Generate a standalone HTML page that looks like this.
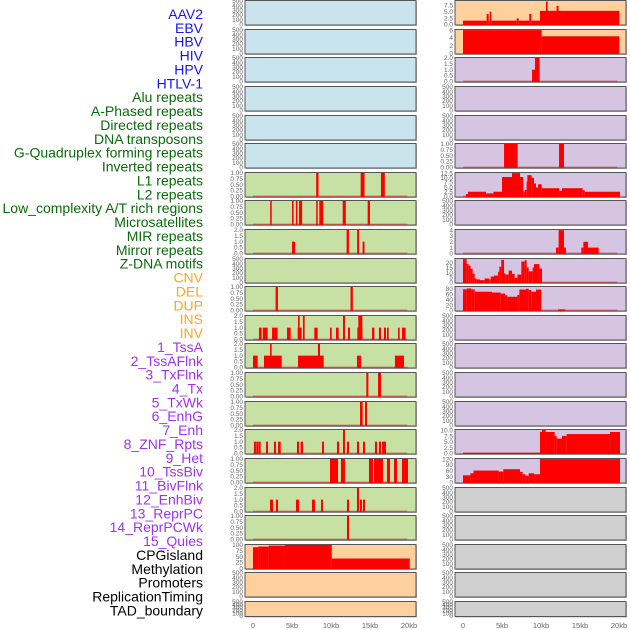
<!DOCTYPE html>
<html><head><meta charset="utf-8"><style>
html,body{margin:0;padding:0;background:#fff;width:630px;height:630px;overflow:hidden}
svg{display:block;font-family:"Liberation Sans",sans-serif}
</style></head><body>
<svg id="chart" width="630" height="630" viewBox="0 0 630 630" xmlns="http://www.w3.org/2000/svg">
<g id="labels"></g>
<g id="panels"></g>
<g id="xaxes"></g>
</svg>
<script>
const trackNames = ["AAV2","EBV","HBV","HIV","HPV","HTLV-1","Alu repeats","A-Phased repeats","Directed repeats","DNA transposons","G-Quadruplex forming repeats","Inverted repeats","L1 repeats","L2 repeats","Low_complexity A/T rich regions","Microsatellites","MIR repeats","Mirror repeats","Z-DNA motifs","CNV","DEL","DUP","INS","INV","1_TssA","2_TssAFlnk","3_TxFlnk","4_Tx","5_TxWk","6_EnhG","7_Enh","8_ZNF_Rpts","9_Het","10_TssBiv","11_BivFlnk","12_EnhBiv","13_ReprPC","14_ReprPCWk","15_Quies","CPGisland","Methylation","Promoters","ReplicationTiming","TAD_boundary"];
const trackGroups = ["v","v","v","v","v","v","r","r","r","r","r","r","r","r","r","r","r","r","r","s","s","s","s","s","c","c","c","c","c","c","c","c","c","c","c","c","c","c","c","o","o","o","o","o"];
const xTickValues = [0,5,10,15,20];
const xTickLabels = ["0","5kb","10kb","15kb","20kb"];

// bars: [start_kb, end_kb, value]
const L7 = [[8.1,8.4,1],[13.8,14.3,1],[16.4,16.9,1]];
const L8 = [[2.2,2.4,1],[5.0,5.2,1],[5.5,5.7,1],[5.9,6.3,1],[8.1,8.3,1],[8.5,9.0,1],[11.5,11.9,1],[14.7,15.0,1]];
const L9 = [[5.0,5.4,1],[12.0,12.3,2],[13.35,13.6,2],[14.05,14.3,1]];
const L11 = [[2.9,3.2,1],[12.5,12.8,1]];
const L12 = [[0.77,1.11,1],[1.25,1.88,1],[2.44,3.16,1],[4.36,4.83,1],[5.73,6.24,1],[5.77,5.98,2],[6.41,6.62,2],[7.86,8.29,1],[9.87,10.09,1],[10.64,10.98,1],[11.54,11.79,2],[12.18,12.44,1],[13.38,14.02,1],[13.5,14.02,2],[15.26,15.56,1],[16.15,16.41,1],[16.79,17.05,1],[17.18,17.39,1],[18.59,18.8,1],[19.1,19.57,1]];
const L13 = [[0,0.6,1],[1.41,3.68,1],[2.18,2.39,2],[5.77,9.06,1],[8.33,8.59,2],[13.33,13.85,1],[18.2,19.36,1]];
const L14 = [[14.53,14.79,1],[16.03,16.41,1]];
const L15 = [[13.72,14.06,1],[14.36,14.62,1]];
const L16 = [[0.12,0.38,1],[0.42,0.68,1],[0.72,0.98,1],[1.67,1.92,1],[2.69,2.95,1],[3.21,3.55,1],[5.64,5.9,1],[6.11,6.41,1],[8.85,9.1,1],[10.77,11.03,1],[11.54,11.79,2],[12.05,12.31,1],[13.33,13.59,1],[14.1,14.36,1],[15.64,15.9,1],[16.15,16.41,1],[16.54,16.79,1],[16.79,17.05,1]];
const L17 = [[9.87,10.9,1],[11.28,11.79,1],[14.87,15.38,1],[15.51,16.15,1],[16.15,16.67,1],[17.18,17.56,1],[18.08,18.46,1],[19.1,19.87,1]];
const L18 = [[2.18,2.56,1],[2.95,3.21,1],[5.51,5.9,1],[7.56,7.95,1],[8.72,8.97,1],[12.05,12.31,1],[13.33,13.59,2],[13.72,13.97,1],[14.1,14.36,1]];
const L19 = [[12.05,12.31,1]];
const L20 = [[0,0.68,90],[0.68,2.0,93],[2.0,4.1,97],[4.1,10.1,100],[10.1,20.1,42]];
const R1 = [[0,3.03,1.5],[3.03,3.29,4.1],[3.29,3.42,1.5],[3.42,3.63,5.1],[3.63,6.88,1.5],[6.88,7.14,2.4],[7.14,8.5,1.5],[8.5,8.76,4.2],[8.76,9.87,1.5],[9.87,20.04,5.4],[10.64,10.85,9.1],[12.0,12.26,7.4]];
const R2 = [[0,10.08,6],[10.08,20.04,4.4]];
const R3 = [[8.85,9.23,1.0],[9.23,9.83,2]];
const R6 = [[5.26,7.01,1],[12.31,12.95,1]];
const R7 = [[0.38,0.64,1.2],[0.64,2.95,2.5],[2.95,3.89,1.6],[3.89,5.0,2.5],[5.0,6.28,10.4],[6.28,7.31,12.5],[7.31,7.73,10.4],[7.73,7.91,2.6],[7.91,8.16,3.5],[8.16,8.25,7.9],[8.25,8.8,11.4],[8.8,9.1,10],[9.1,9.36,6.9],[9.36,9.62,4.8],[9.62,10.09,6.5],[10.09,12.35,4.4],[12.35,12.69,3.0],[12.69,15.34,4.4],[15.34,15.6,3.3],[15.6,20.13,2.5]];
const R9 = [[11.92,12.26,1],[12.26,12.95,4],[12.95,13.2,1],[15.17,15.43,1],[15.43,16.03,2],[16.03,17.4,1]];
const R10 = [[0,0.47,23.7],[0.47,0.73,18.7],[0.73,0.98,17],[0.98,1.24,14],[1.24,1.5,8.7],[1.5,1.75,4],[1.75,2.18,3],[2.18,2.78,2.3],[2.78,3.38,4],[3.38,3.55,3],[3.55,3.97,6],[3.97,4.49,7],[4.49,4.66,11],[4.66,4.91,16],[4.91,5.26,23],[5.26,5.43,9.3],[5.43,5.85,8],[5.85,6.28,12],[6.28,6.62,8.7],[6.62,6.97,4.7],[6.97,7.48,8],[7.48,7.91,21.3],[7.91,8.16,22.7],[8.16,8.42,15.3],[8.42,8.93,11.3],[8.93,9.1,15.3],[9.1,9.79,18.7],[9.79,10.13,14.3]];
const R11 = [[0,0.47,79],[0.47,1.07,82],[1.07,1.5,79],[1.5,3.72,70],[3.72,4.83,67],[4.83,5.43,63],[5.43,5.68,57],[5.68,6.97,51],[6.97,7.22,58],[7.22,8.08,78],[8.08,8.42,81],[8.42,8.76,76],[8.76,9.36,70],[9.36,10.04,78],[12.18,13.12,4]];
const R16 = [[0,9.87,0.3],[9.87,10.13,9.3],[10.13,10.6,10.1],[10.6,11.75,9.3],[11.75,12.01,7.6],[12.01,12.69,6.4],[12.69,13.29,7.6],[13.29,18.85,8.4],[18.85,20.13,9.3]];
const R17 = [[0,0.94,36.5],[0.94,1.35,47],[1.35,4.57,61],[4.57,5.17,56],[5.17,7.31,68],[7.31,7.65,54],[7.65,8.0,42],[8.0,8.42,35],[8.42,9.1,47],[9.1,9.87,42],[9.87,20.13,120]];

const T01 = [0,0.25,0.5,0.75,1]; const T01L = ["0.00","0.25","0.50","0.75","1.00"];
const T02 = [0,0.5,1,1.5,2]; const T02L = ["0.0","0.5","1.0","1.5","2.0"];
const TE = [0,100,200,300,400,500]; const TEL = ["0","100","200","300","400","500"];

const BLUE="#c9e4ec", GREEN="#c7e0a3", ORANGE="#fed09e", PURPLE="#d5c5e2", GRAY="#d0d0d0";
const rowTops=[0,29,57,86,115,143,172,200,229,258,286,315,343,372,401,429,458,487,515,544,572,601];
const colX=[245,455];
const panelW=171;

function spec(bars,ticks,labels,ymax){return {bars,ticks,labels,ymax};}
const empty = spec(null,TE,TEL,500);
const leftSpecs = [empty,empty,empty,empty,empty,empty,
 spec(L7,T01,T01L,1),spec(L8,T01,T01L,1),spec(L9,T02,T02L,2),empty,spec(L11,T01,T01L,1),
 spec(L12,T02,T02L,2),spec(L13,T02,T02L,2),spec(L14,T01,T01L,1),spec(L15,T01,T01L,1),
 spec(L16,T02,T02L,2),spec(L17,T01,T01L,1),spec(L18,T02,T02L,2),spec(L19,T01,T01L,1),
 spec(L20,[0,25,50,75,100],["0","25","50","75","100"],100),empty,empty];
const rightSpecs = [spec(R1,[0,2.5,5,7.5],["0.0","2.5","5.0","7.5"],9.35),
 spec(R2,[0,2,4,6],["0","2","4","6"],6.05),spec(R3,T02,T02L,2),empty,empty,spec(R6,T01,T01L,1),
 spec(R7,[0,2.5,5,7.5,10,12.5],["0.0","2.5","5.0","7.5","10.0","12.5"],12.6),empty,
 spec(R9,[0,1,2,3,4],["0","1","2","3","4"],4.05),
 spec(R10,[0,5,10,15,20],["0","5","10","15","20"],24),
 spec(R11,[0,20,40,60,80],["0","20","40","60","80"],88),
 empty,empty,empty,empty,
 spec(R16,[0,2.5,5,7.5,10],["0.0","2.5","5.0","7.5","10.0"],10.2),
 spec(R17,[0,30,60,90,120],["0","30","60","90","120"],121),
 empty,empty,empty,empty,empty];
const leftBg=r=>r<6?BLUE:(r<19?GREEN:ORANGE);
const rightBg=r=>r<2?ORANGE:(r<17?PURPLE:GRAY);

const NS="http://www.w3.org/2000/svg";
function mk(tag,attrs,parent){const e=document.createElementNS(NS,tag);for(const k in attrs)e.setAttribute(k,attrs[k]);parent.appendChild(e);return e;}

// labels
const groupColor={v:"#1515ee",r:"#0a6b0a",s:"#ffa51e",c:"#a033f0",o:"#000"};
const lab=document.getElementById("labels");
trackNames.forEach((n,i)=>{
  const t=mk("text",{x:203,y:19+i*13.87,"text-anchor":"end","font-size":"14",fill:groupColor[trackGroups[i]]},lab);
  
  
  t.textContent=n;
});

const pg=document.getElementById("panels");
function drawPanel(col,r,s,bg){
  const x0=colX[col], top=rowTops[r]+0.5, h=(r===21?15:24.5), bot=top+h;
  const g=mk("g",{},pg);
  
  
  mk("rect",{x:x0+1,y:top+1,width:panelW,height:h,fill:"#bbb"},g);
  mk("rect",{x:x0,y:top,width:panelW,height:h,fill:bg,stroke:"#555","stroke-width":1},g);
  const xs=kb=>x0+8+kb*7.8;
  const ys=v=>bot-0.6-(v/s.ymax)*(h-1);
  s.ticks.forEach((tv,i)=>{
    const t=mk("text",{x:x0-2,y:ys(tv)+2.2,"text-anchor":"end","font-size":"6.5",fill:"#666"},g);
    
    
    t.textContent=s.labels[i];
  });
  if(s.bars){
    const bl=mk("line",{x1:xs(0),x2:xs(19.8),y1:ys(0),y2:ys(0),stroke:"rgba(205,40,40,0.6)","stroke-width":1.5},g);
    
    
    s.bars.forEach(b=>{
      const y=ys(b[2]);
      const rc=mk("rect",{x:xs(b[0]),y:y,width:Math.max(0.8,xs(b[1])-xs(b[0])),height:Math.max(0,ys(0)-y+0.6),fill:"#ff0000"},g);
      
      
    });
  }
}
rowTops.forEach((t,r)=>{drawPanel(0,r,leftSpecs[r],leftBg(r));drawPanel(1,r,rightSpecs[r],rightBg(r));});

const xa=document.getElementById("xaxes");
[0,1].forEach(c=>{
  xTickValues.forEach((v,i)=>{
    const t=mk("text",{x:colX[c]+8+v*7.8,y:628,"text-anchor":"middle","font-size":"7.5",fill:"#666"},xa);
    
    
    t.textContent=xTickLabels[i];
  });
});
</script>
</body></html>
